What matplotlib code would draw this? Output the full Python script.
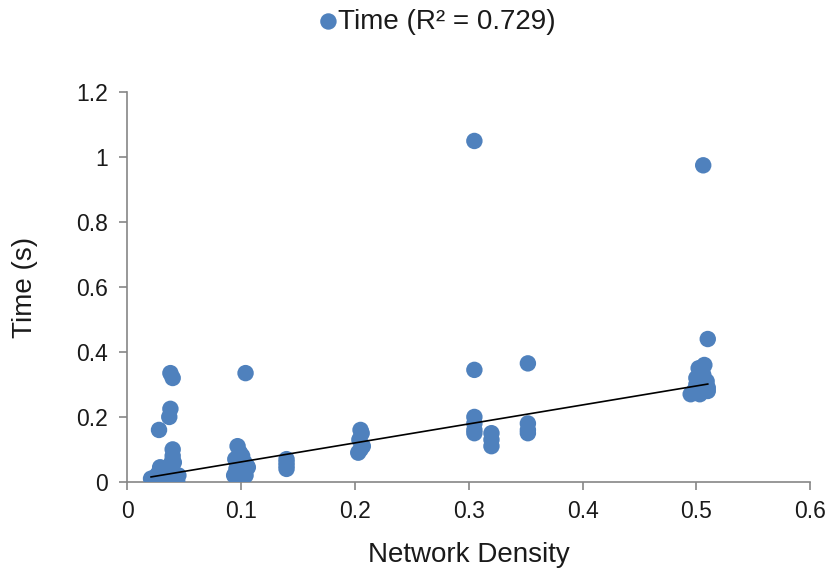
import numpy as np
import matplotlib.pyplot as plt

plt.rcParams['font.family'] = ['Liberation Sans', 'DejaVu Sans']

# network density vs. run time
density = [
    0.021, 0.027, 0.030, 0.033, 0.028, 0.035, 0.038, 0.040, 0.042, 0.045,
    0.026, 0.031, 0.036, 0.041, 0.044, 0.029, 0.034, 0.039, 0.043,
    0.028, 0.038, 0.040, 0.038, 0.037, 0.040, 0.040, 0.039,
    0.094, 0.096, 0.098, 0.100, 0.102, 0.104, 0.106, 0.095, 0.099, 0.103,
    0.097, 0.101, 0.105, 0.098, 0.100, 0.104,
    0.140, 0.140, 0.140, 0.140,
    0.203, 0.205, 0.207, 0.204, 0.206, 0.205,
    0.305, 0.305, 0.305, 0.305, 0.305, 0.305,
    0.320, 0.320, 0.320,
    0.352, 0.352, 0.352, 0.352,
    0.495, 0.498, 0.500, 0.503, 0.505, 0.508, 0.510, 0.510, 0.500, 0.505,
    0.507, 0.502, 0.506, 0.509, 0.506, 0.510,
]
time_s = [
    0.010, 0.000, 0.020, 0.005, 0.030, 0.040, 0.050, 0.030, 0.010, 0.020,
    0.020, 0.035, 0.010, 0.060, 0.000, 0.045, 0.025, 0.040, 0.015,
    0.160, 0.335, 0.320, 0.225, 0.200, 0.100, 0.080, 0.060,
    0.020, 0.040, 0.060, 0.030, 0.050, 0.020, 0.045, 0.070, 0.090, 0.060,
    0.110, 0.080, 0.050, 0.030, 0.010, 0.335,
    0.040, 0.050, 0.060, 0.070,
    0.090, 0.100, 0.110, 0.130, 0.150, 0.160,
    1.050, 0.345, 0.200, 0.180, 0.160, 0.150,
    0.150, 0.130, 0.110,
    0.365, 0.180, 0.160, 0.150,
    0.270, 0.280, 0.300, 0.270, 0.280, 0.290, 0.280, 0.290, 0.320, 0.340,
    0.360, 0.350, 0.330, 0.310, 0.975, 0.440,
]
# linear trend as shown on the chart
trend_slope = 0.585
trend_intercept = 0.003
r2_label = 'Time (R² = 0.729)'

blue = '#4f81bd'
grey = '#868686'
text_col = '#1a1a1a'

fig = plt.figure(figsize=(8.31, 5.73), dpi=100)
ax = fig.add_axes([0.153, 0.159, 0.822, 0.68])

ax.scatter(density, time_s, s=140, color=blue, edgecolors='none', label=r2_label, zorder=3)

xs = np.array([min(density), max(density)])
ax.plot(xs, trend_slope * xs + trend_intercept, color='black', lw=1.2, zorder=4)

ax.set_xlim(0, 0.6)
ax.set_ylim(0, 1.2)
ax.set_xticks(np.arange(0, 0.61, 0.1))
ax.set_yticks(np.arange(0, 1.21, 0.2))
ax.set_xticklabels(['0', '0.1', '0.2', '0.3', '0.4', '0.5', '0.6'])
ax.set_yticklabels(['0', '0.2', '0.4', '0.6', '0.8', '1', '1.2'])

for side in ['top', 'right']:
    ax.spines[side].set_visible(False)
for side in ['left', 'bottom']:
    ax.spines[side].set_color(grey)
    ax.spines[side].set_linewidth(1.2)
ax.tick_params(direction='out', length=6, width=1.2, color=grey,
               labelsize=16.5, labelcolor=text_col)
ax.tick_params(axis='x', pad=7)
ax.tick_params(axis='y', pad=8)

ax.set_xlabel('Network Density', fontsize=20, color=text_col)
ax.set_ylabel('Time (s)', fontsize=20, color=text_col)
ax.xaxis.set_label_coords(0.5, -0.155)
ax.yaxis.set_label_coords(-0.13, 0.5)

fig.legend(loc='center', bbox_to_anchor=(0.527, 0.962), frameon=False,
           fontsize=20, handletextpad=0.05, handlelength=0.6, markerscale=1.0,
           labelcolor=text_col, borderpad=0)

fig.savefig('out.png', dpi=100)
